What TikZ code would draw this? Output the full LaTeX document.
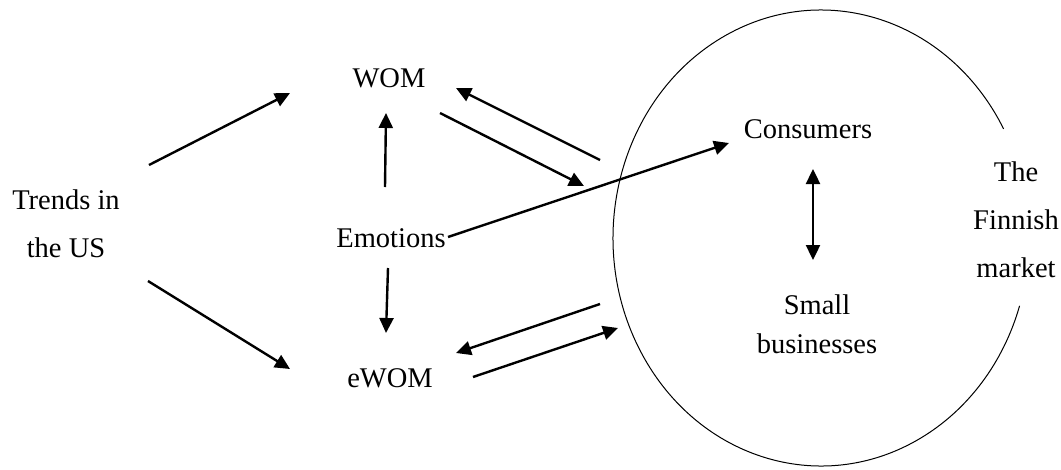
\documentclass[tikz,border=0pt]{standalone}
\usepackage{fontspec}
\setmainfont{Liberation Serif}
\usetikzlibrary{arrows.meta}
\begin{document}
\begin{tikzpicture}[x=1pt,y=-1pt,
  label/.style={inner sep=0pt,anchor=base,align=center,font=\fontsize{28.5}{48}\selectfont},
  tight/.style={label,font=\fontsize{28.5}{38.5}\selectfont},
  link/.style={line width=2.4pt,-{Triangle[length=15pt,width=14pt]}},
  twoway/.style={line width=2.4pt,{Triangle[length=15pt,width=14pt]}-{Triangle[length=15pt,width=14pt]}}]
\useasboundingbox (0,0) rectangle (1061,469);

% the market, drawn as an open ellipse
\draw[line width=1pt] (821,238) ++(28.6:208 and -228)
  arc[start angle=28.6,end angle=342.7,x radius=208,y radius=-228];

% labels (multi-line labels are placed by the baseline of their last line)
\node[label] (trends) at (66,257) {Trends in\\the US};
\node[label] (wom) at (389,87) {WOM};
\node[label] (emo) at (391,247) {Emotions};
\node[label] (ewom) at (390,387) {eWOM};
\node[label] (cons) at (808,138) {Consumers};
\node[tight] (small) at (817,353) {Small\\businesses};
\node[label] (fin) at (1016,277) {The\\Finnish\\market};

% connector ends
\coordinate (trA) at (149,165); \coordinate (womA) at (290,93);
\coordinate (trB) at (148,281); \coordinate (ewomA) at (290,369);
\coordinate (emoA) at (385,187); \coordinate (womB) at (386,113);
\coordinate (emoB) at (388,268); \coordinate (ewomB) at (386,333);
\coordinate (womC) at (440,113); \coordinate (mkA) at (584,186);
\coordinate (mkB) at (600,160); \coordinate (womD) at (456,88);
\coordinate (emoC) at (448,237); \coordinate (consA) at (729,143);
\coordinate (ewomC) at (473,377); \coordinate (mkC) at (618,328);
\coordinate (mkD) at (600,304); \coordinate (ewomD) at (456,353);
\coordinate (consB) at (813,169); \coordinate (smallA) at (813,260);

\draw[link] (trA) -- (womA);
\draw[link] (trB) -- (ewomA);
\draw[link] (emoA) -- (womB);
\draw[link] (emoB) -- (ewomB);
\draw[link] (womC) -- (mkA);
\draw[link] (mkB) -- (womD);
\draw[link] (emoC) -- (consA);
\draw[link] (ewomC) -- (mkC);
\draw[link] (mkD) -- (ewomD);
\draw[twoway] (consB) -- (smallA);
\end{tikzpicture}
\end{document}
